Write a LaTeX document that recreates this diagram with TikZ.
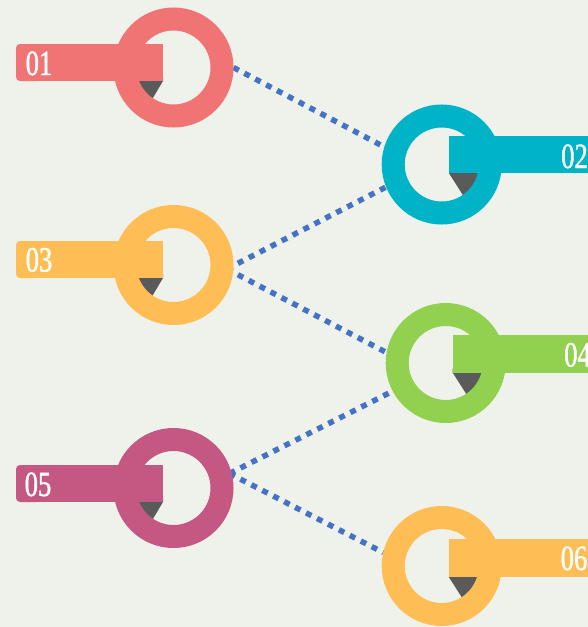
\documentclass[tikz,border=0pt]{standalone}
\usepackage{fontspec}
\newfontfamily\numfont[FakeStretch=0.75,FakeBold=1.2]{Liberation Serif}
\pgfdeclarelayer{back}
\pgfdeclarelayer{links}
\pgfsetlayers{back,links,main}
\definecolor{bgc}{HTML}{EFF2EB}
\definecolor{c1}{HTML}{F07474}
\definecolor{c2}{HTML}{00B3C6}
\definecolor{c3}{HTML}{FFBE55}
\definecolor{c4}{HTML}{92D050}
\definecolor{c5}{HTML}{C45882}
\definecolor{wedgec}{HTML}{5A5A5A}
\definecolor{dotc}{HTML}{4472C4}
\newcommand{\wedgeleft}[2]{\fill[wedgec] (#1,#2-4) -- (#1,#2) -- ++(-18.9,31.8) -- (#1-34.5,#2) -- (#1-34.5,#2-4) -- cycle;}
\newcommand{\wedgeright}[2]{\fill[wedgec] (#1,#2-4) -- (#1,#2) -- ++(19.9,31.2) -- (#1+38.7,#2) -- (#1+38.7,#2-4) -- cycle;}
\newcommand{\barleft}[4]{\fill[#1, rounded corners=4pt] (16,#2) rectangle (40,#3); \fill[#1] (30,#2) rectangle (#4,#3);}
\newcommand{\barright}[4]{\fill[#1] (#4,#2) rectangle (600,#3);}
\begin{document}
\begin{tikzpicture}[x=1pt,y=-1pt,
  ring/.style={circle, line width=23pt, minimum size=97pt, inner sep=0pt, draw=#1},
  link/.style={draw=dotc, line width=5.5pt, dash pattern=on 6pt off 6.3pt},
  num/.style={anchor=base west, inner sep=0pt, text=white, font=\numfont\fontsize{35.5}{36}\selectfont}]
\useasboundingbox (0,0) rectangle (588,627);
\clip (0,0) rectangle (588,627);
\begin{pgfonlayer}{back}
  \fill[bgc] (0,0) rectangle (588,627);
\end{pgfonlayer}

% item 01
\wedgeleft{163}{81}
\node[ring=c1] (c01) at (173.5,67.5) {};
\barleft{c1}{44}{81}{163}
\node[num] (t01) at (25.5,75) {01};

% item 03
\wedgeleft{163}{278}
\node[ring=c3] (c03) at (173.5,265) {};
\barleft{c3}{241}{278}{163}
\node[num] (t03) at (25.5,271.5) {03};

% item 05
\wedgeleft{163}{502}
\node[ring=c5] (c05) at (173.5,488) {};
\barleft{c5}{465}{502}{163}
\node[num] (t05) at (24.5,496) {05};

% item 02
\wedgeright{449}{173.3}
\node[ring=c2] (c02) at (441.7,164.5) {};
\barright{c2}{136}{173.3}{449}
\node[num] (t02) at (561,168) {02};

% item 04
\wedgeright{452.7}{372.7}
\node[ring=c4] (c04) at (445.7,363) {};
\barright{c4}{335.3}{372.7}{452.7}
\node[num] (t04) at (564,366.5) {04};

% item 06
\wedgeright{449}{577.3}
\node[ring=c3] (c06) at (441.7,566) {};
\barright{c3}{539.3}{577.3}{449}
\node[num] (t06) at (560.5,570) {06};

\coordinate (j03) at (227,269);
\coordinate (j05) at (229.5,473.5);
\begin{pgfonlayer}{links}
  \draw[link] (c01.0) -- (c02.163);
  \draw[link] (j03) -- (c02.202);
  \draw[link] (j03) -- (c04.170);
  \draw[link] (j05) -- (c04.208);
  \draw[link] (j05) -- (c06.167);
\end{pgfonlayer}
\end{tikzpicture}
\end{document}
